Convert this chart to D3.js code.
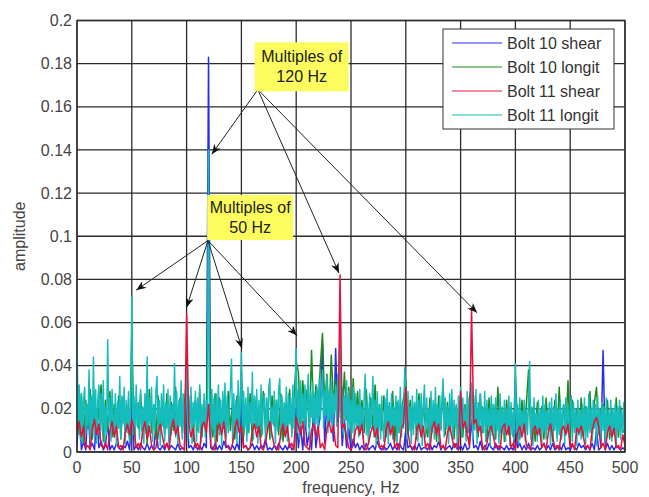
<!DOCTYPE html>
<html>
<head>
<meta charset="utf-8">
<script src="https://cdn.jsdelivr.net/npm/d3@7"></script>
<style>
  body { margin: 0; background: #fff; }
  svg text { font-family: "Liberation Sans", Arial, sans-serif; }
</style>
</head>
<body>
<svg width="649" height="497"></svg>
<script>
// amplitudes, in thousandths
// bolt 11 longit: 1 Hz spacing, others: 2 Hz spacing
const bolt11LongitMilli = [
  53, 14, 31, 6, 27, 4, 24, 30, 8, 22,
  12, 38, 5, 26, 9, 44, 7, 29, 4, 24,
  31, 6, 27, 10, 33, 4, 21, 8, 52, 12,
  25, 5, 29, 15, 7, 27, 3, 23, 11, 35,
  6, 26, 13, 30, 4, 24, 9, 28, 5, 20,
  72, 8, 26, 4, 31, 12, 23, 6, 29, 10,
  21, 4, 27, 9, 44, 7, 25, 13, 30, 5,
  22, 10, 28, 35, 6, 24, 3, 27, 12, 31,
  5, 23, 11, 29, 3, 26, 8, 22, 13, 41,
  7, 28, 4, 24, 12, 33, 6, 27, 9, 21,
  40, 6, 26, 11, 30, 4, 23, 13, 28, 5,
  25, 9, 31, 4, 22, 12, 27, 7, 24, 14,
  140, 16, 6, 29, 10, 25, 4, 27, 13, 31,
  8, 24, 3, 28, 11, 32, 6, 26, 9, 22,
  30, 43, 5, 27, 12, 24, 4, 33, 10, 21,
  46, 7, 28, 11, 25, 5, 30, 9, 23, 13,
  37, 6, 26, 12, 29, 4, 24, 10, 31, 8,
  22, 27, 5, 25, 11, 30, 34, 7, 21, 13,
  28, 4, 24, 10, 29, 34, 6, 26, 12, 23,
  8, 30, 5, 27, 13, 25, 7, 31, 11, 22,
  48, 9, 29, 6, 33, 14, 27, 8, 31, 12,
  25, 36, 7, 28, 16, 32, 10, 27, 13, 30,
  8, 34, 15, 26, 38, 11, 29, 17, 35, 9,
  28, 14, 33, 10, 27, 18, 31, 12, 36, 16,
  65, 13, 30, 8, 26, 15, 33, 6, 28, 11,
  24, 9, 30, 5, 27, 12, 22, 7, 29, 10,
  21, 6, 25, 36, 8, 23, 4, 27, 11, 20,
  35, 7, 24, 3, 28, 10, 22, 6, 26, 13,
  5, 25, 11, 29, 4, 23, 9, 27, 6, 21,
  12, 26, 3, 24, 9, 30, 7, 22, 11, 39,
  25, 6, 28, 10, 21, 4, 26, 8, 23, 12,
  29, 5, 24, 10, 27, 3, 22, 31, 7, 25,
  11, 20, 4, 28, 9, 24, 6, 30, 12, 22,
  5, 26, 10, 23, 34, 7, 25, 11, 21, 4,
  27, 9, 29, 6, 24, 12, 22, 3, 26, 10,
  30, 7, 25, 11, 21, 5, 28, 9, 24, 13,
  32, 6, 26, 10, 29, 4, 23, 12, 27, 7,
  21, 9, 28, 5, 24, 11, 20, 3, 26, 8,
  22, 6, 25, 10, 19, 4, 27, 7, 21, 9,
  24, 5, 20, 11, 26, 3, 23, 8, 19, 6,
  41, 9, 22, 4, 25, 7, 19, 10, 24, 5,
  20, 8, 23, 42, 6, 21, 3, 25, 10, 18,
  5, 24, 8, 20, 4, 26, 9, 22, 6, 19,
  11, 23, 3, 25, 7, 21, 10, 27, 5, 20,
  8, 24, 6, 19, 22, 4, 25, 9, 21, 7,
  18, 26, 5, 23, 9, 20, 3, 24, 8, 19,
  6, 22, 10, 25, 4, 21, 7, 27, 9, 20,
  5, 24, 11, 22, 3, 26, 8, 20, 6, 23,
  10, 21, 4, 25, 7, 19, 9, 24, 5, 20,
  8, 22, 3, 21, 10, 24, 6, 19, 9, 23,
  7
];

const bolt10LongitMilli = [
  22, 8, 27, 5, 24, 11, 29, 6, 25, 9,
  20, 31, 5, 24, 10, 28, 7, 22, 12, 26,
  6, 25, 10, 21, 5, 55, 8, 23, 11, 27,
  7, 24, 4, 29, 9, 22, 6, 26, 11, 21,
  8, 27, 5, 23, 10, 30, 6, 25, 9, 22,
  35, 11, 26, 5, 24, 10, 29, 7, 22, 12,
  95, 14, 7, 27, 5, 25, 11, 23, 8, 28,
  10, 24, 6, 26, 12, 38, 7, 22, 9, 27,
  5, 25, 11, 21, 7, 28, 10, 23, 6, 26,
  12, 24, 8, 27, 5, 22, 11, 29, 9, 25,
  42, 37, 13, 33, 18, 29, 11, 47, 15, 31,
  19, 40, 55, 21, 36, 17, 45, 23, 33, 20,
  50, 18, 37, 15, 30, 12, 34, 14, 28, 10,
  24, 9, 29, 7, 25, 11, 31, 6, 22, 10,
  26, 7, 21, 10, 28, 5, 23, 9, 20, 25,
  33, 8, 24, 11, 22, 6, 27, 9, 21, 12,
  7, 25, 10, 22, 5, 26, 11, 31, 8, 23,
  10, 24, 6, 21, 12, 26, 7, 22, 9, 25,
  30, 11, 23, 7, 27, 9, 21, 5, 25, 10,
  22, 6, 30, 9, 20, 5, 24, 8, 21, 7,
  35, 12, 6, 24, 9, 22, 38, 8, 20, 5,
  23, 9, 21, 6, 25, 10, 19, 5, 24, 8,
  30, 7, 22, 10, 33, 6, 24, 11, 20, 8,
  25, 7, 21, 10, 28, 6, 23, 30, 9, 20,
  22, 8, 24, 6, 20, 10, 25, 7, 21, 9,
  11
];

const bolt11ShearMilli = [
  9, 14, 7, 12, 2, 3, 1, 11, 15, 8,
  13, 3, 2, 4, 1, 10, 14, 7, 12, 2,
  3, 1, 9, 13, 8, 15, 11, 2, 4, 1,
  10, 14, 6, 12, 3, 1, 2, 9, 13, 7,
  2, 4, 1, 11, 15, 8, 12, 3, 2, 1,
  64, 13, 7, 11, 2, 4, 1, 12, 14, 9,
  22, 3, 2, 1, 10, 13, 8, 14, 3, 2,
  1, 4, 11, 15, 9, 12, 2, 3, 1, 2,
  10, 13, 7, 12, 2, 1, 4, 11, 14, 8,
  3, 2, 1, 9, 13, 7, 12, 2, 4, 1,
  16, 12, 8, 14, 3, 2, 1, 10, 13, 7,
  12, 2, 4, 1, 11, 14, 9, 12, 3, 2,
  82, 11, 13, 7, 2, 1, 3, 10, 12, 8,
  13, 2, 1, 4, 9, 12, 7, 11, 2, 3,
  1, 10, 14, 8, 12, 2, 4, 1, 11, 13,
  30, 9, 3, 2, 1, 10, 13, 7, 12, 2,
  4, 1, 11, 14, 8, 13, 2, 3, 1, 9,
  12, 7, 2, 4, 1, 28, 11, 14, 8, 3,
  66, 13, 15, 9, 12, 2, 1, 4, 10, 12,
  7, 2, 3, 1, 11, 13, 8, 12, 2, 4,
  1, 9, 12, 7, 13, 3, 2, 1, 10, 12,
  8, 11, 2, 4, 1, 9, 13, 7, 2, 3,
  1, 10, 12, 8, 13, 2, 4, 1, 11, 9,
  12, 7, 2, 3, 1, 10, 14, 16, 12, 2,
  4, 1, 9, 12, 7, 11, 2, 3, 1, 8,
  3
];

const bolt10ShearMilli = [
  3, 24, 1, 5, 1, 22, 2, 4, 1, 18,
  2, 5, 1, 3, 14, 1, 3, 1, 4, 2,
  1, 3, 2, 5, 1, 20, 1, 3, 1, 4,
  2, 1, 4, 1, 3, 1, 12, 2, 1, 3,
  1, 4, 1, 3, 2, 1, 4, 1, 2, 1,
  30, 2, 3, 1, 4, 1, 3, 1, 4, 2,
  183, 2, 1, 4, 1, 3, 1, 5, 2, 3,
  1, 3, 1, 4, 1, 25, 2, 3, 1, 2,
  4, 1, 3, 1, 3, 2, 6, 1, 2, 1,
  3, 1, 4, 2, 1, 3, 1, 4, 1, 2,
  20, 2, 12, 1, 16, 3, 9, 1, 22, 2,
  10, 18, 50, 4, 24, 12, 20, 5, 48, 14,
  30, 3, 15, 2, 11, 1, 6, 2, 4, 1,
  3, 1, 4, 1, 2, 3, 1, 5, 2, 1,
  3, 1, 2, 4, 1, 3, 1, 4, 2, 1,
  10, 2, 3, 1, 3, 1, 4, 1, 2, 2,
  1, 4, 1, 3, 2, 5, 1, 3, 1, 2,
  3, 1, 4, 2, 1, 3, 1, 4, 1, 2,
  15, 2, 3, 1, 5, 1, 3, 1, 4, 2,
  1, 4, 1, 3, 2, 1, 3, 1, 2, 1,
  12, 2, 4, 1, 3, 1, 4, 1, 2, 1,
  3, 1, 2, 4, 1, 3, 1, 4, 1, 2,
  3, 1, 4, 1, 2, 1, 3, 2, 1, 4,
  2, 3, 1, 3, 1, 4, 1, 10, 1, 2,
  47, 1, 4, 1, 3, 1, 3, 2, 1, 2,
  1
];

const seriesNames = ["Bolt 10 shear", "Bolt 10 longit", "Bolt 11 shear", "Bolt 11 longit"];
const seriesColors = ["#2a2aee", "#1a8a1a", "#e8103a", "#14bcbc"];
const seriesStepHz = [2, 2, 2, 1];
const seriesMilli = [bolt10ShearMilli, bolt10LongitMilli, bolt11ShearMilli, bolt11LongitMilli];
const drawOrder = [0, 1, 3, 2];

const xTickValues = [0, 50, 100, 150, 200, 250, 300, 350, 400, 450, 500];
const yTickValues = [0, 0.02, 0.04, 0.06, 0.08, 0.1, 0.12, 0.14, 0.16, 0.18, 0.2];
const yTickLabels = ["0", "0.02", "0.04", "0.06", "0.08", "0.1", "0.12", "0.14", "0.16", "0.18", "0.2"];

// annotation boxes (data units): centre freq, centre amplitude, label lines
const notes = [
  { f: 205, a: 0.1785, w: 94, h: 49, lines: ["Multiples of", "120 Hz"],
    from: [165, 0.168], to: [[123, 0.138], [239, 0.083], [365, 0.0645]] },
  { f: 158, a: 0.1087, w: 86, h: 45, lines: ["Multiples of", "50 Hz"],
    from: [119.5, 0.098], to: [[54, 0.075], [100, 0.067], [150.5, 0.048], [200.7, 0.054]] }
];

const svg = d3.select("svg");
const margin = { left: 77, right: 24, top: 20.5, bottom: 45 };
const width = 649, height = 497;

const x = d3.scaleLinear().domain([0, 500]).range([margin.left, width - margin.right]);
const y = d3.scaleLinear().domain([0, 0.2]).range([height - margin.bottom, margin.top]);

svg.append("rect").attr("width", width).attr("height", height).attr("fill", "#fff");

// grid
const grid = svg.append("g").attr("stroke", "#2a2a2a").attr("stroke-width", 1.3);
grid.selectAll("line.gx").data(xTickValues).enter().append("line")
    .attr("x1", d => x(d)).attr("x2", d => x(d))
    .attr("y1", y(0)).attr("y2", y(0.2));
grid.selectAll("line.gy").data(yTickValues).enter().append("line")
    .attr("x1", x(0)).attr("x2", x(500))
    .attr("y1", d => y(d)).attr("y2", d => y(d));

// clip
svg.append("clipPath").attr("id", "plot")
  .append("rect")
    .attr("x", x(0)).attr("y", y(0.2))
    .attr("width", x(500) - x(0)).attr("height", y(0) - y(0.2));

const line = d3.line()
    .x(d => x(d.f))
    .y(d => y(d.a));

const plot = svg.append("g").attr("clip-path", "url(#plot)");
drawOrder.forEach(k => {
    const pts = seriesMilli[k].map((v, i) => ({ f: i * seriesStepHz[k], a: v / 1000 }));
    plot.append("path")
        .datum(pts)
        .attr("d", line)
        .attr("fill", "none")
        .attr("stroke", seriesColors[k])
        .attr("stroke-width", 1.5)
        .attr("stroke-linejoin", "round");
});

// frame
svg.append("rect")
    .attr("x", x(0)).attr("y", y(0.2))
    .attr("width", x(500) - x(0)).attr("height", y(0) - y(0.2))
    .attr("fill", "none").attr("stroke", "#2a2a2a").attr("stroke-width", 1.3);

// tick labels
svg.append("g").selectAll("text").data(xTickValues).enter().append("text")
    .attr("x", d => x(d)).attr("y", y(0) + 21)
    .attr("text-anchor", "middle")
    .attr("font-size", 16).attr("fill", "#444")
    .text(d => d);
svg.append("g").selectAll("text").data(yTickValues).enter().append("text")
    .attr("x", x(0) - 5).attr("y", d => y(d)).attr("dy", "0.35em")
    .attr("text-anchor", "end")
    .attr("font-size", 16).attr("fill", "#444")
    .text((d, i) => yTickLabels[i]);

svg.append("text")
    .attr("x", (x(0) + x(500)) / 2).attr("y", 493)
    .attr("text-anchor", "middle").attr("font-size", 16).attr("fill", "#444")
    .text("frequency, Hz");
svg.append("text")
    .attr("transform", `translate(25, ${(y(0) + y(0.2)) / 2}) rotate(-90)`)
    .attr("text-anchor", "middle").attr("font-size", 16).attr("fill", "#444")
    .text("amplitude");

// arrowhead
svg.append("defs").append("marker")
    .attr("id", "head")
    .attr("viewBox", "0 0 10 8")
    .attr("refX", 10).attr("refY", 4)
    .attr("markerWidth", 11).attr("markerHeight", 8)
    .attr("markerUnits", "userSpaceOnUse")
    .attr("orient", "auto")
  .append("path")
    .attr("d", "M0,0 L10,4 L0,8 L3,4 z")
    .attr("fill", "#111");

const ann = svg.append("g");
notes.forEach(n => {
    n.to.forEach(t => {
        ann.append("line")
            .attr("x1", x(n.from[0])).attr("y1", y(n.from[1]))
            .attr("x2", x(t[0])).attr("y2", y(t[1]))
            .attr("stroke", "#222").attr("stroke-width", 1)
            .attr("marker-end", "url(#head)");
    });
    const cx = x(n.f), cy = y(n.a);
    ann.append("rect")
        .attr("x", cx - n.w / 2).attr("y", cy - n.h / 2)
        .attr("width", n.w).attr("height", n.h)
        .attr("fill", "#fcfc5e");
    n.lines.forEach((s, i) => {
        ann.append("text")
            .attr("x", cx).attr("y", cy + (i - 0.5) * 20).attr("dy", "0.35em")
            .attr("text-anchor", "middle").attr("font-size", 16).attr("fill", "#222")
            .text(s);
    });
});

// legend
const legend = svg.append("g");
legend.append("rect")
    .attr("x", 443).attr("y", 29).attr("width", 171).attr("height", 100)
    .attr("fill", "#fff").attr("stroke", "#333").attr("stroke-width", 1);
seriesNames.forEach((name, i) => {
    const ly = 43 + i * 24;
    legend.append("line")
        .attr("x1", 452).attr("x2", 502).attr("y1", ly).attr("y2", ly)
        .attr("stroke", seriesColors[i]).attr("stroke-width", 1);
    legend.append("text")
        .attr("x", 507).attr("y", ly).attr("dy", "0.35em")
        .attr("font-size", 16).attr("fill", "#333")
        .text(name);
});
</script>
</body>
</html>
